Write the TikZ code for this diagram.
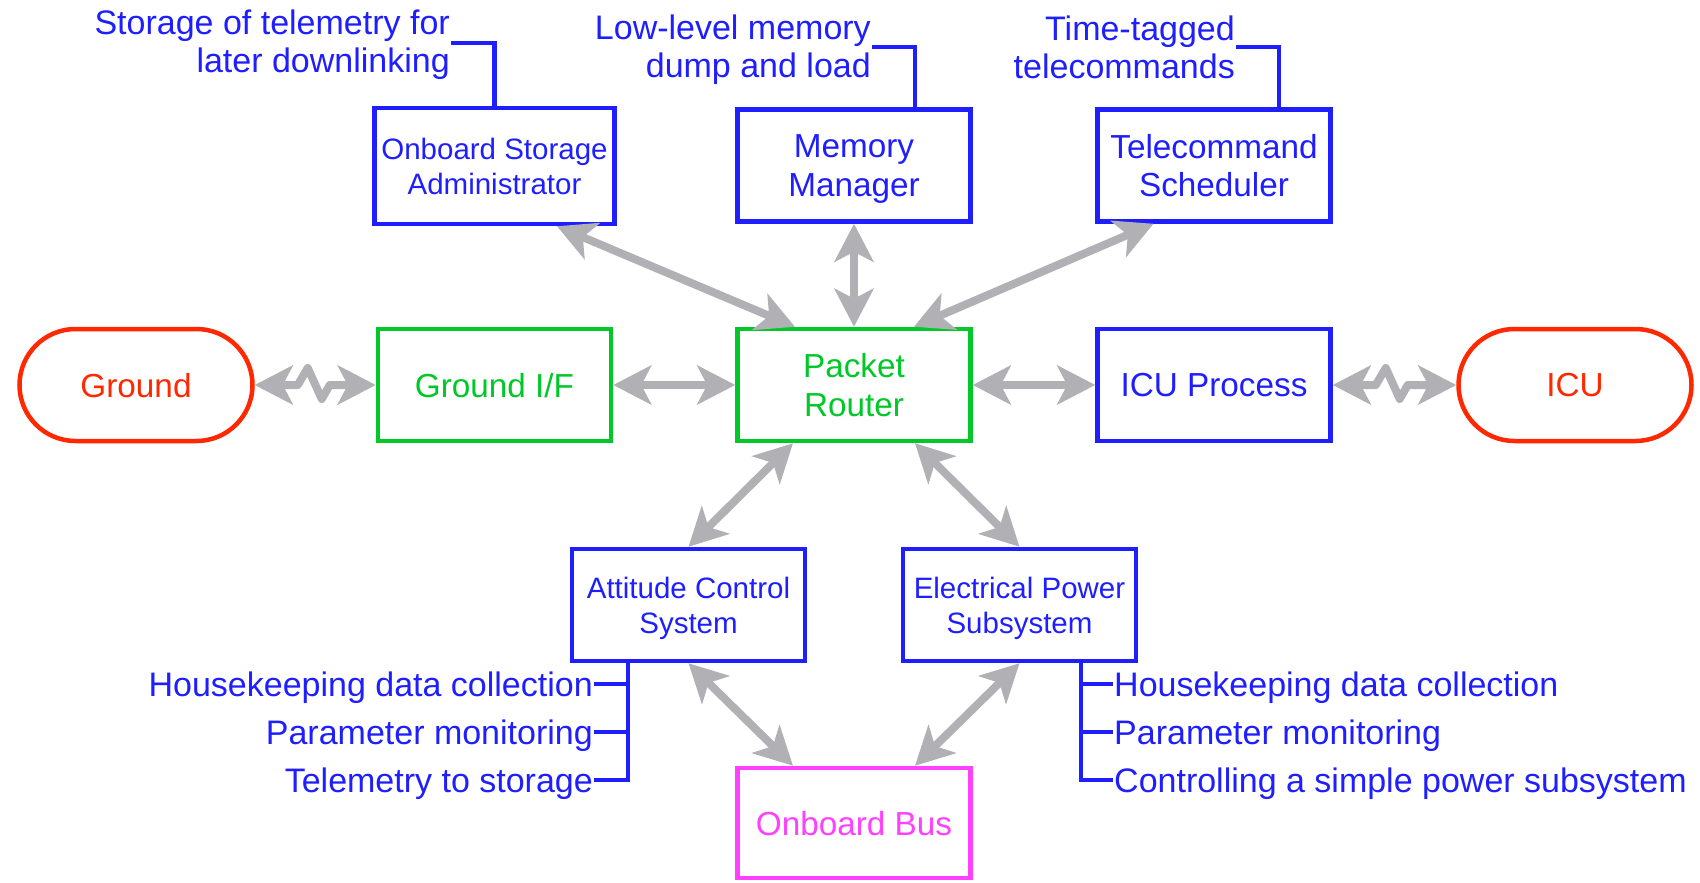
\documentclass[tikz,border=0pt]{standalone}
\usepackage{fontspec}
\setmainfont{Liberation Sans}
\usetikzlibrary{arrows.meta,shapes.misc,calc}

\definecolor{sysblue}{RGB}{30,30,255}
\definecolor{sysgreen}{RGB}{0,200,40}
\definecolor{sysred}{RGB}{255,40,0}
\definecolor{sysmagenta}{RGB}{255,64,255}
\definecolor{linkgray}{RGB}{176,176,181}

\tikzset{
  % descenders of the last line are ignored when a label is centred
  box/.style={draw, line width=4.5pt, minimum width=233pt, minimum height=112pt,
    inner sep=0pt, align=center, text depth=0pt,
    font=\fontsize{33.3}{38.5}\selectfont},
  smalltext/.style={font=\fontsize{29.5}{35}\selectfont},
  bluebox/.style={box, draw=sysblue, text=sysblue},
  greenbox/.style={box, draw=sysgreen, text=sysgreen},
  busbox/.style={box, draw=sysmagenta, text=sysmagenta},
  endpoint/.style={box, rounded rectangle, draw=sysred, text=sysred},
  note/.style={text=sysblue, inner sep=1pt, font=\fontsize{34}{38}\selectfont},
  itemnote/.style={note, text height=24pt, text depth=0pt},
  noteline/.style={draw=sysblue, line width=4.5pt},
  link/.style={draw=linkgray, line width=8pt, <->,
    >={Stealth[length=38pt,width=39pt,inset=10pt]}},
  radiolink/.style={link, line join=round}
}

\begin{document}
\begin{tikzpicture}[x=1pt,y=-1pt]
\useasboundingbox (0,0) rectangle (1700,883);

% middle row
\node[endpoint] (ground) at (136,385) {Ground};
\node[greenbox] (gif) at (494.5,385) {Ground I/F};
\node[greenbox] (pr) at (854,385) {Packet\\Router};
\node[bluebox] (icup) at (1214,385) {ICU Process};
\node[endpoint] (icu) at (1575,385) {ICU};

% upper row
\node[bluebox, smalltext, minimum width=240pt, minimum height=116pt] (osa) at (494.5,166) {Onboard Storage\\Administrator};
\node[bluebox] (mm) at (854,165.5) {Memory\\Manager};
\node[bluebox] (ts) at (1214,165.5) {Telecommand\\Scheduler};

% lower rows
\node[bluebox, smalltext] (acs) at (688.5,605) {Attitude Control\\System};
\node[bluebox, smalltext] (eps) at (1019.5,605) {Electrical Power\\Subsystem};
\node[busbox, minimum height=110pt] (ob) at (854,823) {Onboard Bus};

% service notes above the upper row
\node[note, align=right, anchor=east] (osanote) at (451,44.5) {Storage of telemetry for\\later downlinking};
\draw[noteline] ([yshift=1.5pt]osanote.east) -| (osa.north);
\node[note, align=right, anchor=east] (mmnote) at (872,50) {Low-level memory\\dump and load};
\draw[noteline] ([yshift=3pt]mmnote.east) -| ([xshift=61pt]mm.north);
\node[note, align=right, anchor=east] (tsnote) at (1236,47) {Time-tagged\\telecommands};
\draw[noteline] (tsnote.east) -| ([xshift=65pt]ts.north);

% attitude control functions
\node[itemnote, anchor=east] (acs1) at (594,684) {Housekeeping data collection};
\node[itemnote, anchor=east] (acs2) at (594,732) {Parameter monitoring};
\node[itemnote, anchor=east] (acs3) at (594,780) {Telemetry to storage};
\coordinate (acstrunk) at ([xshift=-60.5pt]acs.south);
\draw[noteline] (acstrunk) |- (acs3.east);
\draw[noteline] (acs1.east) -- (acs1.east -| acstrunk);
\draw[noteline] (acs2.east) -- (acs2.east -| acstrunk);

% power subsystem functions
\node[itemnote, anchor=west] (eps1) at (1113,684) {Housekeeping data collection};
\node[itemnote, anchor=west] (eps2) at (1113,732) {Parameter monitoring};
\node[itemnote, anchor=west] (eps3) at (1113,780) {Controlling a simple power subsystem};
\coordinate (epstrunk) at ([xshift=61.5pt]eps.south);
\draw[noteline] (epstrunk) |- (eps3.west);
\draw[noteline] (eps1.west) -- (eps1.west -| epstrunk);
\draw[noteline] (eps2.west) -- (eps2.west -| epstrunk);

% packet links
\draw[link] (gif.east) -- (pr.west);
\draw[link] (pr.east) -- (icup.west);
\draw[link] ([xshift=62.5pt]osa.south) -- ([xshift=-59pt]pr.north);
\draw[link] (mm.south) -- (pr.north);
\draw[link] ([xshift=-60.5pt]ts.south) -- ([xshift=60pt]pr.north);
\draw[link] ([xshift=-61pt]pr.south) -- (acs.north);
\draw[link] ([xshift=61pt]pr.south) -- (eps.north);
\draw[link] (acs.south) -- ([xshift=-61pt]ob.north);
\draw[link] (eps.south) -- ([xshift=61pt]ob.north);

% radio links to the outside
\draw[radiolink] (ground.east) -- ++(43,0) -- ++(10,-17) -- ++(14,31) -- ++(8,-14) -- (gif.west);
\draw[radiolink] (icup.east) -- ++(43,0) -- ++(10,-17) -- ++(14,31) -- ++(8,-14) -- (icu.west);
\end{tikzpicture}
\end{document}
